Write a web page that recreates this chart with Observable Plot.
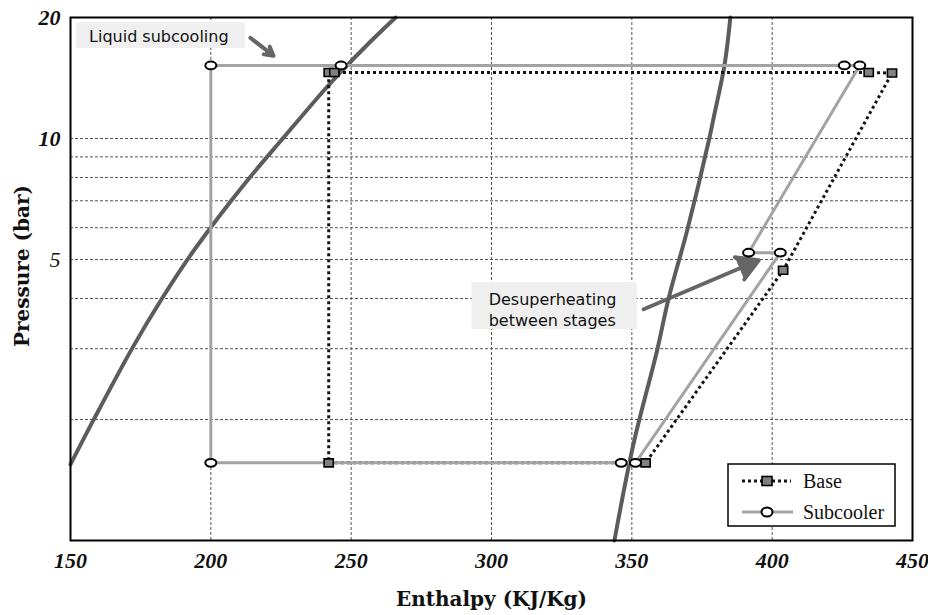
<!DOCTYPE html>
<html><head><meta charset="utf-8">
<script src="https://cdn.jsdelivr.net/npm/d3@7"></script>
<script src="https://cdn.jsdelivr.net/npm/@observablehq/plot@0.6"></script>
<style>
body{margin:0;background:#fff;}
#wrap{position:relative;width:928px;height:615px;}
#legend{position:absolute;left:727px;top:463px;}
</style></head><body><div id="wrap"></div>
<script>
// ---- data (enthalpy kJ/kg, pressure bar) ----
const liquidH = [150.0, 158.16, 172.02, 182.70, 191.86, 199.31, 207.25, 213.81, 225.63, 240.20, 246.19, 257.27, 265.85];
const liquidP = [1.547, 1.992, 3.01, 4.01, 5.02, 5.92, 7.0, 7.99, 10.0, 13.15, 14.61, 17.53, 20];
const vaporH = [343.8, 350.6, 359.0, 363.1, 369.7, 377.6, 379.2, 383.0, 385.1];
const vaporP = [1.0, 1.74, 2.97, 4.0, 5.9, 10, 11.3, 15.2, 20];

const baseH = [442.7, 434.4, 244.0, 242.0, 242.0, 354.9, 403.9, 442.7];
const baseP = [14.55, 14.6, 14.6, 14.6, 1.56, 1.56, 4.7, 14.55];
const baseMarkH = [242.0, 244.0, 242.0, 354.9, 403.9, 442.7, 434.4];
const baseMarkP = [14.6, 14.6, 1.56, 1.56, 4.7, 14.55, 14.6];

const subH = [431.2, 425.7, 246.4, 200.0, 200.0, 346.2, 351.3, 402.9, 391.6, 431.2];
const subP = [15.2, 15.2, 15.2, 15.2, 1.56, 1.56, 1.56, 5.2, 5.2, 15.2];
const subMarkH = [431.2, 425.7, 246.4, 200.0, 200.0, 346.2, 351.3, 402.9, 391.6];
const subMarkP = [15.2, 15.2, 15.2, 15.2, 1.56, 1.56, 1.56, 5.2, 5.2];

const xTicks = [150, 200, 250, 300, 350, 400, 450];
const yTicks = [5, 10, 20];
const xGrid = [200, 250, 300, 350, 400];
const yGrid = [2, 3, 4, 5, 6, 7, 8, 9, 10];

const noteText = ["Liquid subcooling", "Desuperheating\nbetween stages"];
const noteH = [156.6, 299.0];
const noteP = [18.06, 3.77];
const boxH1 = [152.1, 293.1], boxH2 = [212.3, 351.9];
const boxP1 = [16.75, 3.35], boxP2 = [19.43, 4.38];
const arrowH1 = [214.1, 354.2], arrowP1 = [17.8, 3.76];
const arrowH2 = [222.3, 395.2], arrowP2 = [16.07, 4.98];

const legendLabels = ["Base", "Subcooler"];

// ---- build tables ----
const zip = (H, P) => H.map((h, i) => ({h, p: P[i]}));
const liquid = zip(liquidH, liquidP);
const vapor = zip(vaporH, vaporP);
const base = zip(baseH, baseP);
const baseMarks = zip(baseMarkH, baseMarkP);
const sub = zip(subH, subP);
const subMarks = zip(subMarkH, subMarkP);
const notes = noteText.map((t, i) => ({t, h: noteH[i], p: noteP[i]}));
const boxes = boxH1.map((_, i) => ({x1: boxH1[i], x2: boxH2[i], y1: boxP1[i], y2: boxP2[i]}));
const arrows = arrowH1.map((_, i) => ({x1: arrowH1[i], y1: arrowP1[i], x2: arrowH2[i], y2: arrowP2[i]}));

const ellipseSymbol = {draw(ctx) {
  const rx = 5.5, ry = 3.8, k = 0.5523;
  ctx.moveTo(rx, 0);
  ctx.bezierCurveTo(rx, ry * k, rx * k, ry, 0, ry);
  ctx.bezierCurveTo(-rx * k, ry, -rx, ry * k, -rx, 0);
  ctx.bezierCurveTo(-rx, -ry * k, -rx * k, -ry, 0, -ry);
  ctx.bezierCurveTo(rx * k, -ry, rx, -ry * k, rx, 0);
  ctx.closePath();
}};
const rectSymbol = {draw(ctx) {
  const w = 4.6, hh = 4;
  ctx.moveTo(-w, -hh); ctx.lineTo(w, -hh); ctx.lineTo(w, hh); ctx.lineTo(-w, hh); ctx.closePath();
}};

const tickFont = {fontSize: 22, fontWeight: "bold", fontStyle: "italic", fontFamily: "'Liberation Serif', serif"};
const gridStyle = {stroke: "#555", strokeOpacity: 1, strokeWidth: 1, strokeDasharray: "3,2"};

const chart = Plot.plot({
  width: 928, height: 615,
  marginLeft: 70, marginRight: 16, marginTop: 17, marginBottom: 75,
  x: {domain: [150, 450]},
  y: {type: "log", domain: [1, 20]},
  style: {fontFamily: "'Liberation Serif', serif", background: "#fff", color: "#111"},
  marks: [
    Plot.gridX(xGrid, gridStyle),
    Plot.gridY(yGrid, gridStyle),
    Plot.rect(boxes, {x1: "x1", x2: "x2", y1: "y1", y2: "y2", fill: "#efefef"}),
    Plot.text(notes, {x: "h", y: "p", text: "t", textAnchor: "start", fontFamily: "'DejaVu Sans', sans-serif",
      fontSize: 16, fill: "#111", lineHeight: 1.3}),
    Plot.arrow(arrows, {x1: "x1", y1: "y1", x2: "x2", y2: "y2", stroke: "#666", fill: "#666", strokeWidth: 4,
      headLength: 9, strokeLinejoin: "round"}),
    Plot.line(liquid, {x: "h", y: "p", stroke: "#5c5c5c", strokeWidth: 4, curve: "catmull-rom"}),
    Plot.line(vapor, {x: "h", y: "p", stroke: "#5c5c5c", strokeWidth: 4, curve: "catmull-rom"}),
    Plot.line(base, {x: "h", y: "p", stroke: "#151515", strokeWidth: 3, strokeDasharray: "3,3", strokeLinecap: "butt"}),
    Plot.line(sub, {x: "h", y: "p", stroke: "#a3a3a3", strokeWidth: 3}),
    Plot.dot(baseMarks, {x: "h", y: "p", symbol: rectSymbol, fill: "#808080", stroke: "#000", strokeWidth: 1.6}),
    Plot.dot(subMarks, {x: "h", y: "p", symbol: ellipseSymbol, fill: "#fff", stroke: "#000", strokeWidth: 2}),
    Plot.frame({stroke: "#000", strokeWidth: 2}),
    Plot.axisX(xTicks, {tickSize: 0, tickPadding: 12, label: null, ...tickFont}),
    Plot.axisY(yTicks, {tickSize: 0, tickPadding: 10, label: null, ...tickFont}),
    Plot.text(["Enthalpy (KJ/Kg)"], {frameAnchor: "bottom", dy: 59, lineAnchor: "middle", textAnchor: "middle",
      fontSize: 20, fontWeight: "bold", fontFamily: "'DejaVu Serif', serif", fill: "#111"}),
    Plot.text(["Pressure (bar)"], {frameAnchor: "left", dx: -48, dy: -13, rotate: -90, textAnchor: "middle",
      lineAnchor: "middle", fontSize: 20, fontWeight: "bold", fontFamily: "'DejaVu Serif', serif", fill: "#111"})
  ]
});

d3.select(chart).selectAll('[aria-label="y-axis tick label"] text')
  .filter(function() { return this.textContent === "5"; })
  .attr("font-weight", "normal");

document.getElementById("wrap").appendChild(chart);

// legend
const lg = d3.select("#wrap").append("svg").attr("id", "legend").attr("width", 170).attr("height", 65);
lg.append("rect").attr("x", 1).attr("y", 1).attr("width", 167).attr("height", 62)
  .attr("fill", "#fff").attr("stroke", "#000").attr("stroke-width", 1.5);
lg.append("line").attr("x1", 15).attr("x2", 64).attr("y1", 18).attr("y2", 18)
  .attr("stroke", "#151515").attr("stroke-width", 3).attr("stroke-dasharray", "3,3");
lg.append("rect").attr("x", 35).attr("y", 13.5).attr("width", 10).attr("height", 9)
  .attr("fill", "#808080").attr("stroke", "#000").attr("stroke-width", 1.6);
lg.append("line").attr("x1", 15).attr("x2", 66).attr("y1", 49).attr("y2", 49)
  .attr("stroke", "#a3a3a3").attr("stroke-width", 3);
lg.append("ellipse").attr("cx", 40).attr("cy", 49).attr("rx", 5.5).attr("ry", 4.5)
  .attr("fill", "#fff").attr("stroke", "#000").attr("stroke-width", 2);
lg.selectAll("text.lab").data(legendLabels).join("text").attr("class", "lab")
  .attr("x", 76).attr("y", (d, i) => 18 + i * 31).attr("dy", "0.35em")
  .attr("font-family", "'Liberation Serif', serif").attr("font-size", 20).attr("fill", "#111")
  .text(d => d);
</script></body></html>
